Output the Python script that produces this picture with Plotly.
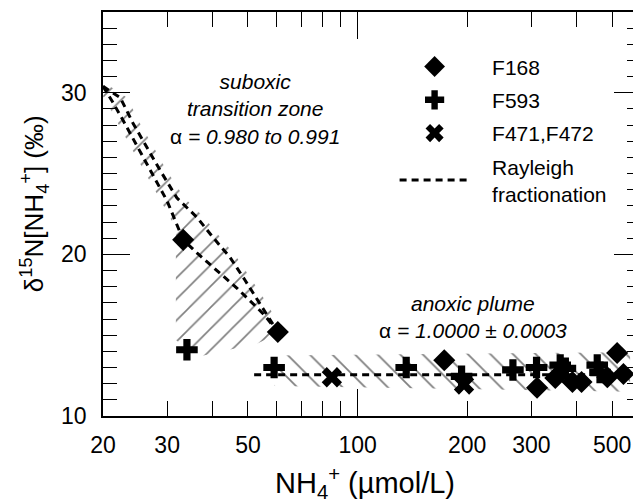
import plotly.graph_objects as go
import math

# ---------------- data ----------------
f168_x = [20, 33.2, 60.4, 173, 311, 349, 389, 412, 485, 516, 537]
f168_y = [30.4, 20.9, 15.2, 13.45, 11.75, 12.35, 12.1, 12.1, 12.4, 13.9, 12.6]

f593_x = [34, 59, 136, 193, 267, 310, 360, 372, 455, 463]
f593_y = [14.1, 13.0, 13.0, 12.45, 12.85, 13.0, 13.15, 12.95, 13.15, 12.7]

f471_x = [85, 196]
f471_y = [12.4, 11.95]

# Rayleigh curves, suboxic transition zone (two fits)
ray_a_x = [20, 21.3, 22.7, 24.8, 26.9, 30.0, 33.2, 36.2, 41.1, 46.7, 53.0, 55.7, 60.4]
ray_a_y = [30.4, 29.4, 28.3, 26.7, 25.2, 23.3, 20.9, 20.1, 19.0, 17.9, 16.7, 16.2, 15.2]
ray_b_x = [20, 22.3, 24.2, 26.4, 28.7, 31.9, 36.2, 40.1, 44.7, 49.1, 53.3, 55.7, 60.4]
ray_b_y = [30.4, 29.7, 28.1, 26.6, 25.2, 23.5, 22.3, 21.05, 19.8, 18.4, 17.15, 16.4, 15.2]

# Rayleigh line, anoxic plume
ray_c_x = [52, 560]
ray_c_y = [12.55, 12.55]

# hatched uncertainty envelopes
hatch_sub_x = [20, 21.8, 23.8, 25.9, 28.8, 31.7, 31.7, 36.2, 53.3, 62.9,
               58.2, 55.7, 51.3, 46.6, 42.0, 37.9, 33.4, 29.9, 27.6, 25.3, 23.3, 20.6]
hatch_sub_y = [29.8, 28.27, 26.67, 25.19, 23.33, 21.6, 14.7, 13.65, 14.5, 15.31,
               16.42, 17.16, 18.4, 19.81, 21.05, 22.28, 23.52, 25.19, 26.6, 28.09, 29.69, 30.5]
hatch_an_x = [59, 560, 560, 59]
hatch_an_y = [13.75, 13.95, 11.5, 11.85]

x_tickvals = [20, 30, 50, 100, 200, 300, 500]
x_minorvals = [40, 60, 70, 80, 90, 400]
x_range = [20, 600]
y_range = [10, 35]

FONT = "Liberation Sans, Arial, sans-serif"
NB = "\u00a0\u00a0\u00a0"

fig = go.Figure()

fig.add_trace(go.Scatter(
    x=hatch_sub_x, y=hatch_sub_y, mode="none", fill="toself",
    fillcolor="rgba(0,0,0,0)",
    fillpattern=dict(shape="/", size=15, solidity=0.11, fgcolor="black",
                     bgcolor="rgba(0,0,0,0)"),
    showlegend=False, hoverinfo="skip"))
fig.add_trace(go.Scatter(
    x=hatch_an_x, y=hatch_an_y, mode="none", fill="toself",
    fillcolor="rgba(0,0,0,0)",
    fillpattern=dict(shape="\\", size=16, solidity=0.11, fgcolor="black",
                     bgcolor="rgba(0,0,0,0)"),
    showlegend=False, hoverinfo="skip"))

dash_line = dict(color="black", width=3, dash="7px,5px")
fig.add_trace(go.Scatter(x=ray_a_x, y=ray_a_y, mode="lines", line=dash_line,
                         showlegend=False, hoverinfo="skip"))
fig.add_trace(go.Scatter(x=ray_b_x, y=ray_b_y, mode="lines", line=dash_line,
                         showlegend=False, hoverinfo="skip"))
fig.add_trace(go.Scatter(x=ray_c_x, y=ray_c_y, mode="lines", line=dash_line,
                         name=NB + "Rayleigh<br>" + NB + "fractionation",
                         legendrank=4, legendgroup="d"))

fig.add_trace(go.Scatter(x=f168_x, y=f168_y, mode="markers", name=NB + "F168",
                         marker=dict(symbol="diamond", size=17, color="black"),
                         cliponaxis=False, legendrank=1, legendgroup="a"))
fig.add_trace(go.Scatter(x=f593_x, y=f593_y, mode="markers", name=NB + "F593",
                         marker=dict(symbol="cross", size=18, color="black"),
                         cliponaxis=False, legendrank=2, legendgroup="b"))
fig.add_trace(go.Scatter(x=f471_x, y=f471_y, mode="markers", name=NB + "F471,F472",
                         marker=dict(symbol="x", size=18, color="black"),
                         cliponaxis=False, legendrank=3, legendgroup="c"))

# overlay axis carrying the long decade tick
fig.add_trace(go.Scatter(x=[], y=[], xaxis="x2", yaxis="y", showlegend=False))

fig.add_annotation(text="<i>suboxic</i><br><i>transition zone</i><br>α <i>= 0.980 to 0.991</i>",
                   x=math.log10(52.2), y=29.0, xref="x", yref="y", showarrow=False,
                   font=dict(size=21, family=FONT, color="black"), align="center")
fig.add_annotation(text="<i>anoxic plume</i><br>α <i>= 1.0000 ± 0.0003</i>",
                   x=math.log10(208), y=16.15, xref="x", yref="y", showarrow=False,
                   font=dict(size=21, family=FONT, color="black"), align="center")
fig.add_annotation(text="δ<sup>15</sup>N[NH<sub>4</sub><sup>+</sup>] (‰)",
                   x=-0.165, y=0.525, xref="paper", yref="paper", textangle=-90,
                   showarrow=False, font=dict(size=26, family=FONT, color="black"))
fig.add_annotation(text="NH<sub>4</sub><sup>+</sup> (µmol/L)",
                   x=0.487, y=-0.166, xref="paper", yref="paper", yanchor="middle",
                   showarrow=False, font=dict(size=29, family=FONT, color="black"))

fig.update_layout(
    width=641, height=504,
    margin=dict(l=95, r=8, t=4, b=96, autoexpand=False),
    paper_bgcolor="white", plot_bgcolor="white",
    font=dict(family=FONT, color="black"),
    showlegend=True,
    legend=dict(x=0.542, y=0.915, xanchor="left", yanchor="top",
                bgcolor="rgba(0,0,0,0)", font=dict(size=21, family=FONT),
                itemwidth=70, tracegroupgap=3),
    xaxis=dict(type="log", range=[math.log10(v) for v in x_range],
               tickvals=x_tickvals, ticktext=[str(v) for v in x_tickvals],
               ticks="inside", ticklen=15, tickwidth=1.3, tickcolor="black",
               minor=dict(tickvals=x_minorvals, ticks="inside", ticklen=15,
                          tickwidth=1.3, tickcolor="black"),
               showline=True, linewidth=1.6, linecolor="black", mirror="ticks",
               showgrid=False, zeroline=False, ticklabelstandoff=8, automargin=False,
               tickfont=dict(size=23, family=FONT)),
    xaxis2=dict(type="log", range=[math.log10(v) for v in x_range],
                overlaying="x", anchor="y", side="bottom",
                tickvals=[100], ticks="inside", ticklen=27, tickwidth=1.3,
                tickcolor="black", showticklabels=False, mirror="ticks",
                showline=False, showgrid=False, zeroline=False, automargin=False),
    yaxis=dict(range=y_range, tick0=0, dtick=10, ticks="inside", ticklen=27,
               tickwidth=1.3, tickcolor="black",
               minor=dict(dtick=1, ticklen=14, ticks="inside", tickwidth=1.3,
                          tickcolor="black"),
               showline=True, linewidth=1.6, linecolor="black", mirror="ticks",
               showgrid=False, zeroline=False, ticklabelstandoff=10, automargin=False,
               tickfont=dict(size=23, family=FONT)),
)

fig.write_html("out.html")
